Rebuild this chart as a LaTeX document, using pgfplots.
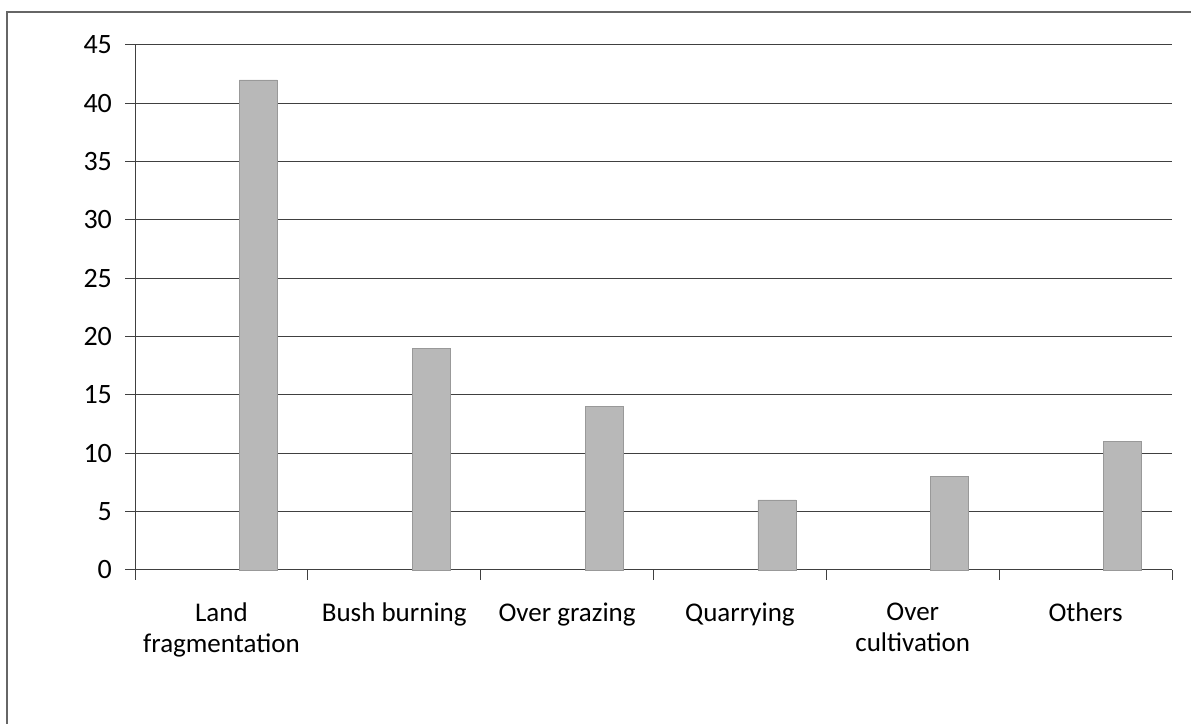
\documentclass[border=0pt]{standalone}
\usepackage{fontspec}
\setmainfont{Carlito}
\usepackage{pgfplots}
\pgfplotsset{compat=1.18}
\begin{document}
\begin{tikzpicture}
\useasboundingbox (0,0) rectangle (595.5pt,362pt);
\draw[black!60, line width=0.6pt] (3.5pt,0) -- (3.5pt,356pt) -- (595.5pt,356pt);
\begin{axis}[
  at={(67.5pt,77pt)}, anchor=south west,
  scale only axis, width=518.5pt, height=262.5pt,
  xmin=-0.5, xmax=5.5, ymin=0, ymax=45,
  axis x line=bottom, axis y line=left,
  axis line style={black!75, line width=0.5pt, -},
  ytick={0,5,...,45},
  ymajorgrids, grid style={black!75, line width=0.5pt},
  xtick={0,...,5},
  xticklabels={{Land\\fragmentation},{Bush burning},{Over grazing},{Quarrying},{Over\\cultivation},{Others}},
  major x tick style={draw=none},
  minor xtick={-0.5,0.5,...,5.5},
  minor tick style={black!75, line width=0.5pt},
  minor tick length=5pt,
  major tick length=5pt,
  tick align=outside,
  ytick style={black!75, line width=0.5pt},
  xticklabel style={font=\fontsize{13.5}{15.5}\selectfont, align=center, yshift=-8pt},
  yticklabel style={font=\fontsize{14}{16}\selectfont, xshift=-3pt},
  /pgf/number format/assume math mode=true,
  clip=false,
]
\addplot[ybar, bar width=19pt, bar shift=18.5pt, fill=black!28, draw=black!40, line width=0.4pt]
  coordinates {(0,42) (1,19) (2,14) (3,6) (4,8) (5,11)};
\end{axis}
\end{tikzpicture}
\end{document}
